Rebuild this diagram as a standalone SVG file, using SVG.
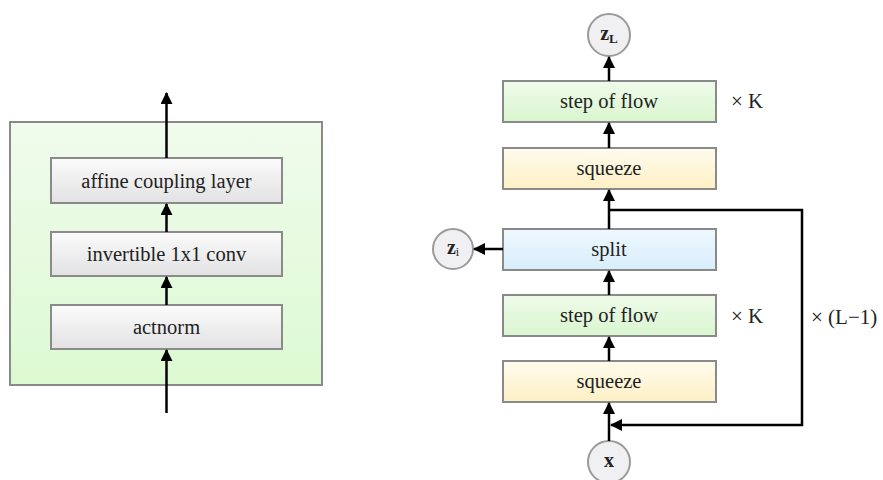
<svg xmlns="http://www.w3.org/2000/svg" width="883" height="480" viewBox="0 0 883 480">
<defs>
<linearGradient id="gGray" x1="0" y1="0" x2="0" y2="1"><stop offset="0" stop-color="#fbfbfb"/><stop offset="1" stop-color="#e2e2e4"/></linearGradient>
<linearGradient id="gOuter" x1="0" y1="0" x2="0" y2="1"><stop offset="0" stop-color="#f0fbec"/><stop offset="1" stop-color="#dcfad2"/></linearGradient>
<linearGradient id="gGreen" x1="0" y1="0" x2="0" y2="1"><stop offset="0" stop-color="#effbea"/><stop offset="1" stop-color="#d9f6cf"/></linearGradient>
<linearGradient id="gYellow" x1="0" y1="0" x2="0" y2="1"><stop offset="0" stop-color="#fffcee"/><stop offset="1" stop-color="#fdf0c4"/></linearGradient>
<linearGradient id="gBlue" x1="0" y1="0" x2="0" y2="1"><stop offset="0" stop-color="#eef8fe"/><stop offset="1" stop-color="#d8eefc"/></linearGradient>
<marker id="ah" markerWidth="12" markerHeight="12" refX="11" refY="6" orient="auto" markerUnits="userSpaceOnUse" viewBox="0 0 12 12">
<path d="M0,0 L12,6 L0,12 z" fill="#000"/>
</marker>
</defs>
<style>
.box{stroke:#8a8a8a;stroke-width:2}
.t{font-family:"Liberation Serif","Times New Roman",serif;font-size:20.5px;fill:#222;text-anchor:middle}
.lbl{font-family:"Liberation Serif","Times New Roman",serif;font-size:21px;fill:#222}
.c{fill:#f0f0f3;stroke:#9a9a9a;stroke-width:2}
.ct{font-family:"Liberation Serif","Times New Roman",serif;font-weight:bold;font-size:20px;fill:#222;text-anchor:middle}
.ln{stroke:#000;stroke-width:2.5;fill:none}
.arr{stroke:#000;stroke-width:2.5;fill:none;marker-end:url(#ah)}
</style>
<rect width="883" height="480" fill="#fff"/>

<g id="left-block">
<rect x="10" y="122" width="312" height="263" fill="url(#gOuter)" class="box"/>
</g>
<g id="affine">
<rect x="51" y="158" width="231" height="45" fill="url(#gGray)" class="box"/>
<text x="166.5" y="188" class="t">affine coupling layer</text>
</g>
<g id="invconv">
<rect x="51" y="232" width="231" height="44" fill="url(#gGray)" class="box"/>
<text x="166.5" y="261" class="t">invertible 1x1 conv</text>
</g>
<g id="actnorm">
<rect x="51" y="305" width="231" height="44" fill="url(#gGray)" class="box"/>
<text x="166.5" y="334" class="t">actnorm</text>
</g>

<g id="zL">
<circle cx="609" cy="35" r="21" class="c"/>
<text x="609" y="40" class="ct">z<tspan font-size="13" dy="3">L</tspan></text>
</g>
<g id="flowK">
<rect x="503" y="81" width="213" height="41" fill="url(#gGreen)" class="box"/>
<text x="609" y="108" class="t">step of flow</text>
</g>
<g id="squeezeTop">
<rect x="503" y="148" width="213" height="41" fill="url(#gYellow)" class="box"/>
<text x="609" y="175" class="t">squeeze</text>
</g>
<g id="split">
<rect x="503" y="229" width="213" height="41" fill="url(#gBlue)" class="box"/>
<text x="609" y="256" class="t">split</text>
</g>
<g id="zi">
<circle cx="453" cy="249" r="20" class="c"/>
<text x="453" y="254" class="ct">z<tspan font-size="12" font-weight="normal" dy="2">i</tspan></text>
</g>
<g id="flow">
<rect x="503" y="295" width="213" height="41" fill="url(#gGreen)" class="box"/>
<text x="609" y="322" class="t">step of flow</text>
</g>
<g id="squeeze">
<rect x="503" y="361" width="213" height="41" fill="url(#gYellow)" class="box"/>
<text x="609" y="388" class="t">squeeze</text>
</g>
<g id="x">
<circle cx="609" cy="462" r="21" class="c"/>
<text x="609" y="467" class="ct">x</text>
</g>
<g id="labels">
<text x="731" y="108" class="lbl">× K</text>
<text x="731" y="323" class="lbl">× K</text>
<text x="811" y="324" class="lbl">× (L−1)</text>
</g>

<g id="connectors">
<line x1="166.5" y1="158" x2="166.5" y2="93" class="arr"/>
<line x1="166.5" y1="232" x2="166.5" y2="204" class="arr"/>
<line x1="166.5" y1="305" x2="166.5" y2="277" class="arr"/>
<line x1="166.5" y1="413" x2="166.5" y2="350" class="arr"/>
<line x1="609" y1="81" x2="609" y2="57" class="arr"/>
<line x1="609" y1="148" x2="609" y2="123" class="arr"/>
<line x1="609" y1="229" x2="609" y2="190" class="arr"/>
<polyline points="609,210 802,210 802,425 611,425" class="arr"/>
<line x1="503" y1="249" x2="474" y2="249" class="arr"/>
<line x1="609" y1="295" x2="609" y2="271" class="arr"/>
<line x1="609" y1="361" x2="609" y2="337" class="arr"/>
<line x1="609" y1="441" x2="609" y2="403" class="arr"/>
</g>
</svg>
